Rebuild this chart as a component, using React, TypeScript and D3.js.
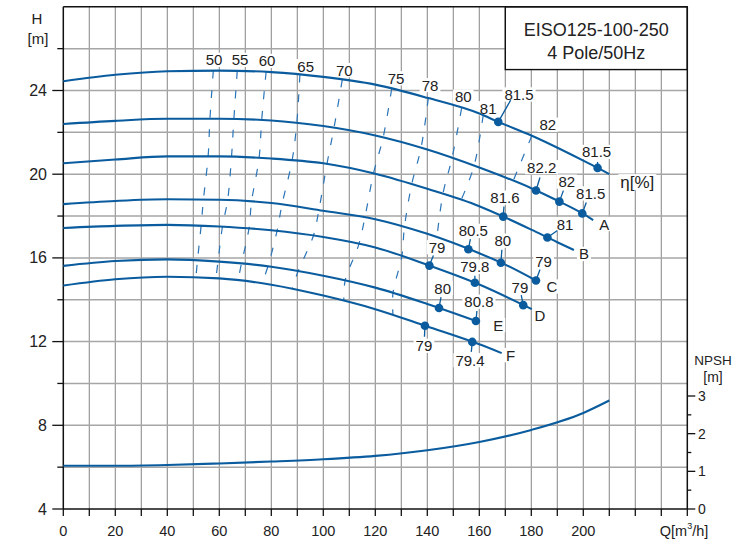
import React from 'react';
import * as d3 from 'd3';

const W = 742;
const HT = 544;

// ---- data ----
const curveLabels = ['η[%]', 'A', 'B', 'C', 'D', 'E', 'F'];
const q0 = [0, 20, 40, 60, 80, 100, 120, 140, 160, 167.3, 180, 200, 205.5, 210];
const h0 = [24.44, 24.75, 24.92, 24.95, 24.88, 24.65, 24.28, 23.65, 22.9, 22.5, 21.85, 20.65, 20.3, 20.0];
const qA = [0, 20, 40, 60, 80, 100, 120, 140, 160, 180, 190, 200, 203.8];
const hA = [22.4, 22.55, 22.65, 22.65, 22.57, 22.3, 21.85, 21.18, 20.32, 19.33, 18.74, 18.1, 17.81];
const qB = [0, 20, 40, 60, 80, 100, 120, 140, 160, 170, 180, 190, 196.4];
const hB = [20.52, 20.7, 20.85, 20.85, 20.75, 20.52, 20.02, 19.3, 18.47, 17.93, 17.35, 16.75, 16.38];
const qC = [0, 20, 40, 60, 80, 100, 120, 140, 160, 170, 181.8];
const hC = [18.57, 18.72, 18.8, 18.78, 18.62, 18.25, 17.85, 17.15, 16.22, 15.68, 14.92];
const qD = [0, 20, 40, 60, 80, 100, 120, 140, 160, 180.2];
const hD = [17.43, 17.53, 17.58, 17.5, 17.32, 17.0, 16.5, 15.67, 14.73, 13.55];
const qE = [0, 20, 40, 60, 80, 100, 120, 140, 160];
const hE = [15.62, 15.85, 15.93, 15.82, 15.58, 15.15, 14.58, 13.8, 12.93];
const qF = [0, 20, 40, 60, 80, 100, 120, 140, 160, 168.6];
const hF = [14.68, 14.98, 15.1, 15.02, 14.72, 14.2, 13.55, 12.72, 11.87, 11.45];

const npshQ = [0, 20, 40, 60, 80, 100, 120, 140, 160, 180, 200, 210];
const npshV = [1.15, 1.15, 1.17, 1.21, 1.26, 1.32, 1.41, 1.56, 1.78, 2.1, 2.55, 2.88];

// iso-efficiency lines: flow where each line crosses curve top, A, B, C, D, E, F
const isoEff = ['50', '55', '60', '65', '70', '75', '78', '80', '81', '82'];
const isoQs = [
  [57.7, 56.4, 55.7, 53.9, 53.0, 51.6, 51.0],
  [66.9, 65.6, 64.7, 63.2, 61.2, 59.5, 58.7],
  [78.0, 76.3, 75.3, 72.4, 71.4, 68.5, 67.2],
  [91.0, 89.8, 88.0, 84.1, 82.2, 78.7, 76.4],
  [107.3, 104.1, 101.4, 98.3, 96.2, 90.3, 88.0],
  [126.3, 123.0, 119.3, 116.0, 113.7, 108.4, 107.9],
  [140.4, 137.6, 134.0, 131.2, 130.2, 126.8, 126.8],
  [153.2, 149.5, 146.0, 143.7],
  [161.5, 158.0, 153.0],
  [180.2, 173.0],
];

// efficiency points on the curves
const dotCurve = [0, 0, 1, 1, 1, 2, 2, 3, 3, 3, 4, 4, 4, 5, 5, 6, 6];
const dotQ = [167.3, 205.5, 181.8, 190.8, 199.6, 169.2, 186.2, 155.8, 168.3, 181.8, 140.8, 158.3, 176.9, 144.5, 158.7, 139.1, 157.3];
const dotText = ['81.5', '81.5', '82.2', '82', '81.5', '81.6', '81', '80.5', '80', '79', '79', '79.8', '79', '80', '80.8', '79', '79.4'];

const xTickVals = d3.range(0, 201, 20);
const hTickVals = [4, 8, 12, 16, 20, 24];
const npshTickVals = [0, 1, 2, 3];

// ---- layout (pixel offsets for annotations) ----
const dotLabelOffset = [[20.7, -27.4], [-1, -16], [5.7, -23.3], [7.4, -20], [8.4, -20], [1.7, -19], [17.7, -13.3], [5, -18.3], [2, -22], [7.6, -19.3], [7.7, -18.4], [0, -16], [-3.3, -17.7], [3.7, -20], [3, -19.3], [-1, 20], [-2.3, 18.3]];
const dotLeader = [[12.4, -21.7], [0, -6], [4, -13], [4, -11], [4, -11], [0.7, -10], [10, -7], [2, -10], [1, -13], [4, -11], [4, -10], [0, -7], [-2, -10], [2, -11], [1, -10], [-0.5, 11], [-1, 10]];
const isoLabelOffset = [[0.7, -10.8], [2.8, -11.2], [0.9, -11], [5.8, -8.5], [2, -9.6], [4.3, -10.5], [1.7, -13], [1.7, -11.5], [5, -7], [16, -11]];
const curveLabelOffset = [[28, 8], [11, 4], [10, 4], [16, 6], [8, 6], [19, 3], [9, 2]];

const FONT = "'Liberation Sans', Arial, Helvetica, sans-serif";
const BLUE = '#0a5c9e';
const DASH_BLUE = '#2a74b8';

const cw: Record<string, number> = {
  '0': 0.556, '1': 0.556, '2': 0.556, '3': 0.556, '4': 0.556, '5': 0.556, '6': 0.556, '7': 0.556, '8': 0.556, '9': 0.556,
  '.': 0.278, A: 0.667, B: 0.667, C: 0.722, D: 0.722, E: 0.667, F: 0.611, 'η': 0.556, '[': 0.278, ']': 0.278, '%': 0.889,
};
const textW = (s: string, fs: number) => s.split('').reduce((a, c) => a + (cw[c] ?? 0.6), 0) * fs;

export default function App() {
  const x = d3.scaleLinear().domain([0, 240]).range([63.3, 687.3]);
  const y = d3.scaleLinear().domain([4, 28]).range([509, 6.8]);
  const yN = d3.scaleLinear().domain([0, 3]).range([y(4), y(4 + 3 * 1.8)]);

  const curves = [
    { q: q0, h: h0 }, { q: qA, h: hA }, { q: qB, h: hB }, { q: qC, h: hC },
    { q: qD, h: hD }, { q: qE, h: hE }, { q: qF, h: hF },
  ];
  const interp = curves.map((c) => d3.scaleLinear().domain(c.q).range(c.h));

  const line = d3.line<[number, number]>().x((d) => x(d[0])).y((d) => y(d[1])).curve(d3.curveMonotoneX);
  const lineN = d3.line<[number, number]>().x((d) => x(d[0])).y((d) => yN(d[1])).curve(d3.curveMonotoneX);
  const isoLine = d3.line<[number, number]>().x((d) => x(d[0])).y((d) => y(d[1])).curve(d3.curveCatmullRom);

  const vGrid = d3.range(10, 231, 10);
  const hGrid = d3.range(6, 27, 2);
  const xTicks = d3.range(0, 241, 10);
  const yTicks = d3.range(4, 27, 2);
  const nTicks = d3.range(0, 3.01, 0.5);

  // collect annotation labels
  type Lab = { x: number; y: number; t: string; fs: number };
  const labels: Lab[] = [];
  isoEff.forEach((t, i) => {
    const q = isoQs[i][0];
    labels.push({ x: x(q) + isoLabelOffset[i][0], y: y(interp[0](q)) + isoLabelOffset[i][1], t, fs: 15 });
  });
  dotQ.forEach((q, i) => {
    const c = dotCurve[i];
    labels.push({ x: x(q) + dotLabelOffset[i][0], y: y(interp[c](q)) + dotLabelOffset[i][1], t: dotText[i], fs: 15 });
  });
  curves.forEach((c, i) => {
    const n = c.q.length - 1;
    labels.push({ x: x(c.q[n]) + curveLabelOffset[i][0], y: y(c.h[n]) + curveLabelOffset[i][1], t: curveLabels[i], fs: i === 0 ? 17 : 15 });
  });

  const boxX0 = x(170);
  const boxY1 = y(25);

  return (
    <svg width={W} height={HT} style={{ position: 'absolute', left: 0, top: 0, background: '#fff' }} fontFamily={FONT}>
      <rect x={0} y={0} width={W} height={HT} fill="#fff" />
      {/* grid */}
      {vGrid.map((v) => (
        <line key={'vg' + v} x1={x(v)} x2={x(v)} y1={y(4)} y2={y(28)} stroke="#8f8f8f" strokeWidth={1.1} />
      ))}
      {hGrid.map((v) => (
        <line key={'hg' + v} x1={x(0)} x2={x(240)} y1={y(v)} y2={y(v)} stroke="#a6a6a6" strokeWidth={1.5} />
      ))}
      {/* title box */}
      <rect x={boxX0} y={y(28)} width={x(240) - boxX0} height={boxY1 - y(28)} fill="#fff" stroke="#111" strokeWidth={1.4} />
      <text x={(boxX0 + x(240)) / 2} y={29.5} textAnchor="middle" dominantBaseline="central" fontSize={18} fill="#222">EISO125-100-250</text>
      <text x={(boxX0 + x(240)) / 2} y={52.5} textAnchor="middle" dominantBaseline="central" fontSize={18} fill="#222">4 Pole/50Hz</text>

      {/* label backgrounds */}
      {labels.map((l, i) => {
        const w = textW(l.t, l.fs) + 4;
        const h = l.fs * 0.95;
        return <rect key={'lb' + i} x={l.x - w / 2} y={l.y - h / 2} width={w} height={h} fill="#fff" />;
      })}

      {/* axes frame */}
      <line x1={x(0)} x2={x(240)} y1={y(4)} y2={y(4)} stroke="#111" strokeWidth={1.5} />
      <line x1={x(0)} x2={x(0)} y1={y(4)} y2={y(28)} stroke="#111" strokeWidth={1.5} />
      <line x1={x(0)} x2={x(240)} y1={y(28)} y2={y(28)} stroke="#111" strokeWidth={1.4} />
      <line x1={x(240)} x2={x(240)} y1={y(4)} y2={y(28)} stroke="#111" strokeWidth={1.5} />

      {xTicks.map((v) => (
        <line key={'xt' + v} x1={x(v)} x2={x(v)} y1={y(4)} y2={y(4) + 7} stroke="#111" strokeWidth={1.3} />
      ))}
      {xTickVals.map((v) => (
        <text key={'xl' + v} x={x(v)} y={531} textAnchor="middle" dominantBaseline="central" fontSize={14.5} fill="#222">{v}</text>
      ))}
      <text x={684} y={531} textAnchor="middle" dominantBaseline="central" fontSize={14.5} fill="#222">
        Q[m<tspan dy={-5} fontSize={9}>3</tspan><tspan dy={5}>/h]</tspan>
      </text>

      {yTicks.map((v) => (
        <line key={'yt' + v} x1={x(0) - (v % 4 === 0 ? 11 : 6)} x2={x(0)} y1={y(v)} y2={y(v)} stroke="#111" strokeWidth={1.3} />
      ))}
      {hTickVals.map((v) => (
        <text key={'yl' + v} x={47} y={y(v)} textAnchor="end" dominantBaseline="central" fontSize={16} fill="#222">{v}</text>
      ))}
      <text x={37} y={18} textAnchor="middle" dominantBaseline="central" fontSize={15} fill="#222">H</text>
      <text x={38} y={38} textAnchor="middle" dominantBaseline="central" fontSize={15} fill="#222">[m]</text>

      {nTicks.map((v) => (
        <line key={'nt' + v} x1={x(240)} x2={x(240) + (v % 1 === 0 ? 8 : 4)} y1={yN(v)} y2={yN(v)} stroke="#111" strokeWidth={1.3} />
      ))}
      {npshTickVals.map((v) => (
        <text key={'nl' + v} x={698} y={yN(v)} textAnchor="start" dominantBaseline="central" fontSize={14} fill="#222">{v}</text>
      ))}
      <text x={713} y={360} textAnchor="middle" dominantBaseline="central" fontSize={13.5} fill="#222">NPSH</text>
      <text x={713} y={377} textAnchor="middle" dominantBaseline="central" fontSize={14} fill="#222">[m]</text>

      {/* iso efficiency lines */}
      {isoQs.map((qs, i) => {
        const pts: [number, number][] = qs.map((q, j) => [q, interp[j](q)]);
        return <path key={'iso' + i} d={isoLine(pts) || ''} fill="none" stroke={DASH_BLUE} strokeWidth={1.2} strokeDasharray="8 11.5" />;
      })}

      {/* H-Q curves */}
      {curves.map((c, i) => (
        <path key={'c' + i} d={line(c.q.map((q, j) => [q, c.h[j]] as [number, number])) || ''} fill="none" stroke={BLUE} strokeWidth={2.1} />
      ))}
      {/* NPSH curve */}
      <path d={lineN(npshQ.map((q, j) => [q, npshV[j]] as [number, number])) || ''} fill="none" stroke={BLUE} strokeWidth={2.1} />

      {/* dots and leaders */}
      {dotQ.map((q, i) => {
        const cx = x(q);
        const cy = y(interp[dotCurve[i]](q));
        return (
          <g key={'d' + i}>
            <line x1={cx} y1={cy} x2={cx + dotLeader[i][0]} y2={cy + dotLeader[i][1]} stroke={BLUE} strokeWidth={1.3} />
            <circle cx={cx} cy={cy} r={4.3} fill={BLUE} />
          </g>
        );
      })}

      {/* labels */}
      {labels.map((l, i) => (
        <text key={'lt' + i} x={l.x} y={l.y} textAnchor="middle" dominantBaseline="central" fontSize={l.fs} fill="#222">{l.t}</text>
      ))}
    </svg>
  );
}
